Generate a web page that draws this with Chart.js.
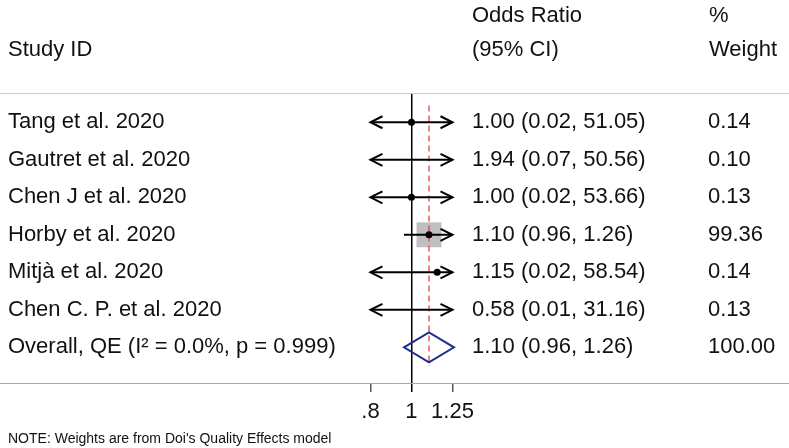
<!DOCTYPE html>
<html>
<head>
<meta charset="utf-8">
<script src="https://cdn.jsdelivr.net/npm/chart.js@4"></script>
<style>
  body { margin: 0; background: #fff; }
</style>
</head>
<body>
<canvas id="grafica" width="789" height="448"></canvas>
<script>
// forest plot data
const studies = ["Tang et al. 2020", "Gautret et al. 2020", "Chen J et al. 2020", "Horby et al. 2020", "Mitjà et al. 2020", "Chen C. P. et al. 2020"];
const overallLabel = "Overall, QE (I² = 0.0%, p = 0.999)";
const est = [1.00, 1.94, 1.00, 1.10, 1.15, 0.58];
const lower = [0.02, 0.07, 0.02, 0.96, 0.02, 0.01];
const upper = [51.05, 50.56, 53.66, 1.26, 58.54, 31.16];
const weights = [0.14, 0.10, 0.13, 99.36, 0.14, 0.13];
const overallEst = 1.10;
const overallLo = 0.96;
const overallHi = 1.26;
const overallWeight = 100.00;
const xTicks = [0.8, 1, 1.25];

const FONT = "'Liberation Sans', Arial, sans-serif";
const TEXT = "#111";

let rowLabels = studies.concat([overallLabel]);
let ciLabels = est.map((e, i) => e.toFixed(2) + " (" + lower[i].toFixed(2) + ", " + upper[i].toFixed(2) + ")")
    .concat([overallEst.toFixed(2) + " (" + overallLo.toFixed(2) + ", " + overallHi.toFixed(2) + ")"]);
let wLabels = weights.map(w => w.toFixed(2)).concat([overallWeight.toFixed(2)]);
let rows = rowLabels.map((_, i) => i);
const overallRow = rows.length - 1;

function rowTicks(scale) {
    scale.ticks = rows.map(v => ({ value: v }));
}

function yAxis(position, labels, width, extra) {
    return Object.assign({
        type: "linear",
        position: position,
        min: -0.78,
        max: 6.95,
        reverse: true,
        afterBuildTicks: rowTicks,
        afterFit: s => { s.width = width; },
        grid: { display: false, drawTicks: false, tickLength: 0 },
        border: { display: false },
        ticks: {
            autoSkip: false,
            padding: 0,
            color: TEXT,
            font: { family: FONT, size: 22 },
            callback: v => labels[v] ?? ""
        }
    }, extra);
}

function arrow(ctx, x, y, dir) {
    ctx.beginPath();
    ctx.moveTo(x - dir * 12, y - 6);
    ctx.lineTo(x, y);
    ctx.lineTo(x - dir * 12, y + 6);
    ctx.stroke();
}

const forestPlugin = {
    id: "forest",
    beforeDatasetsDraw(chart) {
        const { ctx, scales: { x, y } } = chart;
        const lo = xTicks[0], hi = xTicks[xTicks.length - 1];
        ctx.save();
        // weight boxes
        ctx.fillStyle = "#bfbfbf";
        weights.forEach((w, i) => {
            if (est[i] < lo || est[i] > hi) return;
            let s = Math.sqrt(w / 100) * 25;
            ctx.fillRect(x.getPixelForValue(est[i]) - s / 2, y.getPixelForValue(i) - s / 2, s, s);
        });
        // overall effect line
        ctx.strokeStyle = "#e3343f";
        ctx.lineWidth = 1.2;
        ctx.setLineDash([6, 4]);
        ctx.beginPath();
        ctx.moveTo(x.getPixelForValue(overallEst), y.getPixelForValue(-0.45));
        ctx.lineTo(x.getPixelForValue(overallEst), y.getPixelForValue(overallRow + 0.5));
        ctx.stroke();
        ctx.setLineDash([]);
        // confidence intervals
        ctx.strokeStyle = "#000";
        ctx.lineWidth = 2;
        studies.forEach((_, i) => {
            let a = Math.max(lower[i], lo), b = Math.min(upper[i], hi);
            let x1 = x.getPixelForValue(a), x2 = x.getPixelForValue(b), yy = y.getPixelForValue(i);
            ctx.beginPath();
            ctx.moveTo(x1, yy);
            ctx.lineTo(x2, yy);
            ctx.stroke();
            if (lower[i] < lo) arrow(ctx, x1, yy, -1);
            if (upper[i] > hi) arrow(ctx, x2, yy, 1);
        });
        ctx.restore();
    },
    afterDatasetsDraw(chart) {
        const { ctx, scales: { x, y } } = chart;
        let yy = y.getPixelForValue(overallRow);
        let h = 15;
        ctx.save();
        ctx.strokeStyle = "#1f2d8f";
        ctx.lineWidth = 2;
        ctx.beginPath();
        ctx.moveTo(x.getPixelForValue(overallLo), yy);
        ctx.lineTo(x.getPixelForValue(overallEst), yy - h);
        ctx.lineTo(x.getPixelForValue(overallHi), yy);
        ctx.lineTo(x.getPixelForValue(overallEst), yy + h);
        ctx.closePath();
        ctx.stroke();
        ctx.restore();
    },
    afterDraw(chart) {
        const { ctx, chartArea, width } = chart;
        ctx.save();
        ctx.lineWidth = 1;
        ctx.strokeStyle = "#cccccc";
        ctx.beginPath();
        ctx.moveTo(0, chartArea.top + 0.5);
        ctx.lineTo(width, chartArea.top + 0.5);
        ctx.stroke();
        ctx.strokeStyle = "#a8a8a8";
        ctx.beginPath();
        ctx.moveTo(0, chartArea.bottom + 0.5);
        ctx.lineTo(width, chartArea.bottom + 0.5);
        ctx.stroke();

        ctx.fillStyle = TEXT;
        ctx.textBaseline = "alphabetic";
        ctx.textAlign = "left";
        ctx.font = "22px " + FONT;
        ctx.fillText("Study ID", 8, 56);
        ctx.fillText("Odds Ratio", 472, 22);
        ctx.fillText("(95% CI)", 472, 56);
        ctx.fillText("%", 709, 22);
        ctx.fillText("Weight", 709, 56);
        ctx.font = "14px " + FONT;
        ctx.fillText("NOTE: Weights are from Doi's Quality Effects model", 8, 443);
        ctx.restore();
    }
};

new Chart(document.getElementById("grafica"), {
    type: "scatter",
    data: {
        datasets: [{
            data: est.map((v, i) => ({ x: v, y: i })),
            backgroundColor: "#000",
            borderWidth: 0,
            pointRadius: 3.5,
            yAxisID: "y"
        }]
    },
    options: {
        responsive: false,
        animation: false,
        devicePixelRatio: 1,
        layout: { padding: { left: 8, top: 93, right: 0, bottom: 0 } },
        plugins: { legend: { display: false }, tooltip: { enabled: false } },
        scales: {
            x: {
                type: "logarithmic",
                min: 0.798,
                max: 1.39,
                afterBuildTicks: s => { s.ticks = xTicks.map(v => ({ value: v })); },
                afterFit: s => { s.height = 65; },
                border: { display: false },
                grid: {
                    drawOnChartArea: true,
                    tickLength: 9,
                    lineWidth: 1.5,
                    color: c => (c.tick && c.tick.value === 1) ? "#000" : "rgba(0,0,0,0)",
                    tickColor: c => (c.tick && c.tick.value === 1) ? "#000" : "#555"
                },
                ticks: {
                    autoSkip: false,
                    maxRotation: 0,
                    padding: 7,
                    color: TEXT,
                    font: { family: FONT, size: 22 },
                    callback: v => v === 0.8 ? ".8" : String(v)
                }
            },
            y: yAxis("left", rowLabels, 362, { ticks: {
                autoSkip: false, padding: 0, crossAlign: "far", color: TEXT,
                font: { family: FONT, size: 22 }, callback: v => rowLabels[v] ?? ""
            } }),
            y2: yAxis("right", ciLabels, 236, { weight: 0 }),
            y3: yAxis("right", wLabels, 81, { weight: 1 })
        }
    },
    plugins: [forestPlugin]
});
</script>
</body>
</html>
